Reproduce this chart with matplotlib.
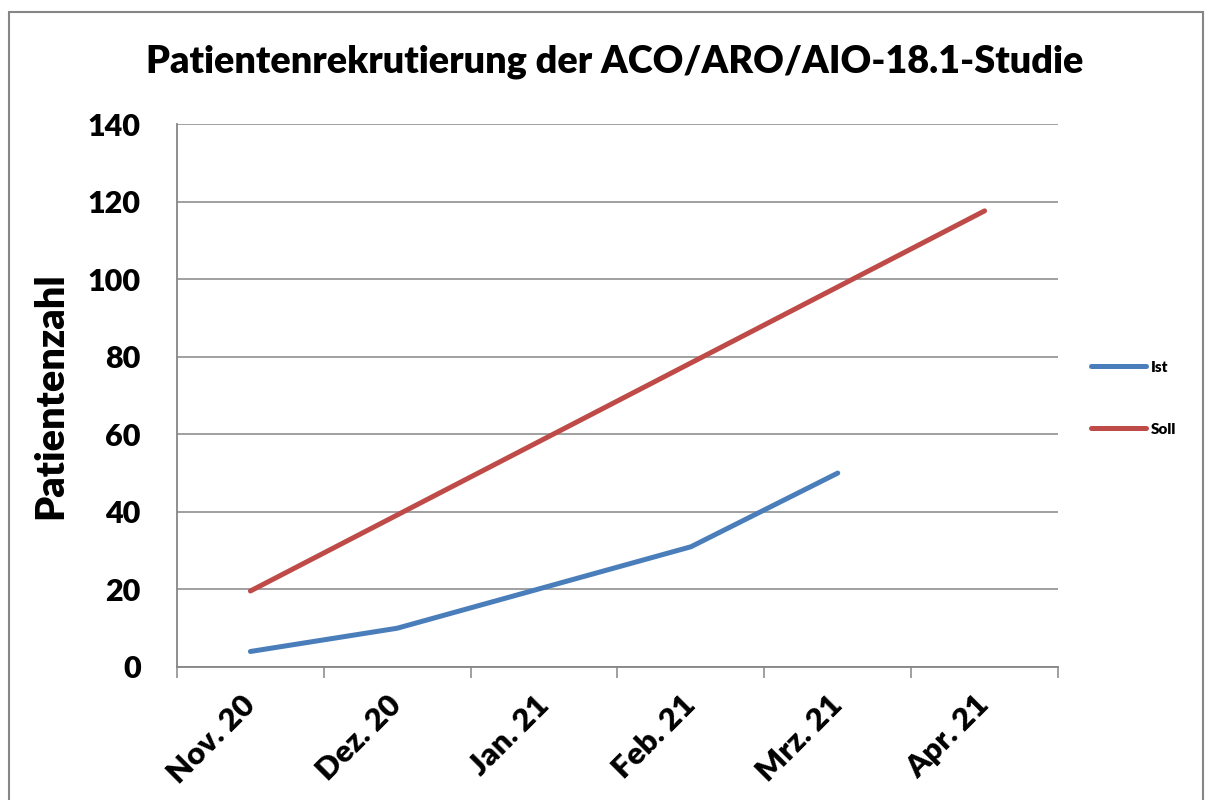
import matplotlib
matplotlib.use("Agg")
import matplotlib.pyplot as plt
from matplotlib.patches import Rectangle
import numpy as np

# data
MONTHS = ["Nov. 20", "Dez. 20", "Jan. 21", "Feb. 21", "Mrz. 21", "Apr. 21"]
IST = [4, 10, 20.5, 31, 50]
SOLL = [19.6, 39.2, 58.8, 78.4, 98, 117.6]

TITLE = "Patientenrekrutierung der ACO/ARO/AIO-18.1-Studie"
Y_LABEL = "Patientenzahl"

BLUE = "#4A7EBB"
RED = "#BE4B48"
GRID = "#868686"

plt.rcParams["font.family"] = ["Lato", "DejaVu Sans"]
plt.rcParams["font.weight"] = "heavy"
plt.rcParams["axes.labelweight"] = "heavy"

fig = plt.figure(figsize=(12.14, 8), dpi=100)
ax = fig.add_axes([177 / 1214, 133 / 800, 881 / 1214, 543 / 800])

x = np.arange(len(MONTHS))
ax.plot(x[:len(IST)], IST, color=BLUE, lw=3.6, solid_capstyle="round", label="Ist")
ax.plot(x[:len(SOLL)], SOLL, color=RED, lw=3.6, solid_capstyle="round", label="Soll")

ax.set_xlim(-0.5, len(MONTHS) - 0.5)
ax.set_ylim(0, 140)
ax.set_yticks(range(0, 141, 20))
ax.yaxis.grid(True, color=GRID, lw=1.1)
ax.set_axisbelow(True)
ax.tick_params(axis="y", length=0, labelsize=22, pad=26)

# category labels in the middle, tick marks on the boundaries
ax.set_xticks(x)
ax.set_xticklabels(MONTHS, rotation=45, ha="right", va="center",
                   rotation_mode="anchor", fontsize=22.5)
ax.tick_params(axis="x", which="major", length=0, pad=24)
ax.set_xticks(np.arange(-0.5, len(MONTHS)), minor=True)
ax.tick_params(axis="x", which="minor", length=8, width=1.1, color=GRID,
               direction="out")

for s in ["top", "right"]:
    ax.spines[s].set_visible(False)
for s in ["left", "bottom"]:
    ax.spines[s].set_color(GRID)
    ax.spines[s].set_linewidth(1.3)

ax.set_ylabel(Y_LABEL, fontsize=28.5)
ax.yaxis.set_label_coords(-108 / 881, 0.5)

fig.text(615 / 1214, 1 - 62 / 800, TITLE, fontsize=27.2, ha="center", va="center")

ax.legend(loc="center left", bbox_to_anchor=(1.022, 0.495), frameon=False,
          fontsize=11, handlelength=3.6, handletextpad=0.3, labelspacing=3.2)

# outer chart border
fig.patches.append(Rectangle((9 / 1214, -0.1), 1194 / 1214, 1.1 - 12 / 800,
                             transform=fig.transFigure, fill=False,
                             edgecolor=GRID, lw=1.5))

fig.savefig("out.png", dpi=100)
